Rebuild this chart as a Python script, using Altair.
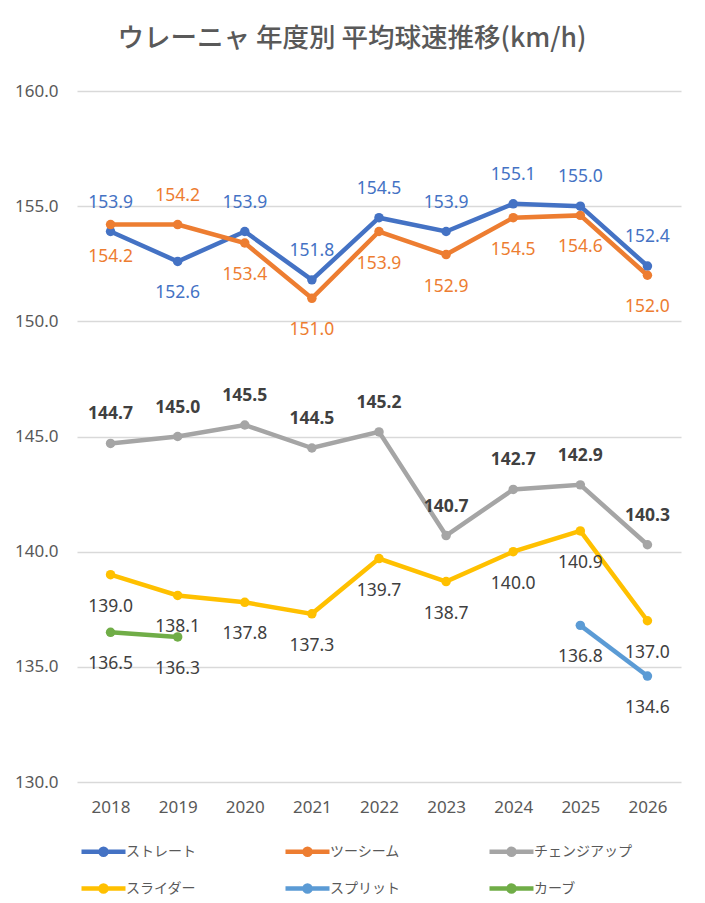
import altair as alt
import pandas as pd

# ---- data ----
years = ["2018", "2019", "2020", "2021", "2022", "2023", "2024", "2025", "2026"]
series_names = ["ストレート", "ツーシーム", "チェンジアップ", "スライダー", "スプリット", "カーブ"]

straight = [153.9, 152.6, 153.9, 151.8, 154.5, 153.9, 155.1, 155.0, 152.4]
twoseam = [154.2, 154.2, 153.4, 151.0, 153.9, 152.9, 154.5, 154.6, 152.0]
changeup = [144.7, 145.0, 145.5, 144.5, 145.2, 140.7, 142.7, 142.9, 140.3]
slider = [139.0, 138.1, 137.8, 137.3, 139.7, 138.7, 140.0, 140.9, 137.0]
split = [None, None, None, None, None, None, None, 136.8, 134.6]
curve = [136.5, 136.3, None, None, None, None, None, None, None]

y_ticks = [130, 135, 140, 145, 150, 155, 160]

# ---- styling ----
series_values = [straight, twoseam, changeup, slider, split, curve]
series_colors = ["#4472C4", "#ED7D31", "#A5A5A5", "#FFC000", "#5B9BD5", "#70AD47"]
label_colors = ["#4472C4", "#ED7D31", "#404040", "#404040", "#404040", "#404040"]
label_pos = [
    ["above", "below", "above", "above", "above", "above", "above", "above", "above"],
    ["below", "above", "below", "below", "below", "below", "below", "below", "below"],
    ["above"] * 9,
    ["below"] * 9,
    ["below"] * 9,
    ["below"] * 9,
]
bold_series = ["チェンジアップ"]

rows = []
for k, (name, vals) in enumerate(zip(series_names, series_values)):
    for i, (yr, v) in enumerate(zip(years, vals)):
        if v is None:
            continue
        rows.append(dict(series=name, year=yr, value=v, pos=label_pos[k][i],
                         lcolor=label_colors[k], label=f"{v:.1f}", sidx=k))
df = pd.DataFrame(rows)

JP = "Noto Sans CJK JP"
NUM = "Noto Sans"

x_enc = alt.X("year:O", sort=years,
              scale=alt.Scale(type="point", padding=0.5),
              axis=alt.Axis(title=None, labelAngle=0, domain=False, ticks=False, grid=False,
                            labelFontSize=17, labelColor="#595959", labelFont=NUM,
                            labelPadding=17))
y_enc = alt.Y("value:Q",
              scale=alt.Scale(domain=[130, 160], nice=False, zero=False),
              axis=alt.Axis(title=None, values=y_ticks, format=".1f", domain=False, ticks=False,
                            gridColor="#D9D9D9", gridWidth=1.3, labelFontSize=17,
                            labelColor="#595959", labelFont=NUM, labelPadding=19))

sym_path = ("M -4.4 0 L 4.4 0 "
            "M -0.6 0 A 0.6 0.6 0 1 1 0.6 0 A 0.6 0.6 0 1 1 -0.6 0 Z")

color_legend = alt.Color("series:N", sort=series_names,
                         scale=alt.Scale(domain=series_names, range=series_colors),
                         legend=alt.Legend(title=None, orient="none", legendX=19, legendY=753,
                                           direction="horizontal", columns=3, gridAlign="all",
                                           symbolType=sym_path, symbolSize=100,
                                           symbolStrokeWidth=4.5, labelOffset=15,
                                           labelFontSize=14, labelFont=JP, labelColor="#595959",
                                           columnPadding=52, rowPadding=12))
color_nolegend = alt.Color("series:N", sort=series_names,
                           scale=alt.Scale(domain=series_names, range=series_colors),
                           legend=None)

base = alt.Chart(df)

lines = base.mark_line(strokeWidth=4.5).encode(
    x=x_enc, y=y_enc, color=color_legend, detail="series:N",
    order=alt.Order("year:O"))

points = base.mark_circle(size=90, opacity=1).encode(
    x=x_enc, y=y_enc, color=color_nolegend)

LBL = 17.5

txt_above = base.transform_filter(
    (alt.datum.pos == "above") & (alt.datum.series != bold_series[0])
).mark_text(dy=-29, baseline="middle", fontSize=LBL, font=NUM).encode(
    x=x_enc, y=y_enc, text="label:N", color=alt.Color("lcolor:N", scale=None))

txt_bold = base.transform_filter(
    (alt.datum.pos == "above") & (alt.datum.series == bold_series[0])
).mark_text(dy=-29, baseline="middle", fontSize=LBL, font=NUM, fontWeight="bold").encode(
    x=x_enc, y=y_enc, text="label:N", color=alt.Color("lcolor:N", scale=None))

txt_below = base.transform_filter(alt.datum.pos == "below").mark_text(
    dy=32, baseline="middle", fontSize=LBL, font=NUM).encode(
    x=x_enc, y=y_enc, text="label:N", color=alt.Color("lcolor:N", scale=None))

chart = alt.layer(lines, points, txt_above, txt_bold, txt_below).properties(
    width=604, height=691,
    background="white",
    autosize=alt.AutoSizeParams(type="none"),
    padding={"left": 69, "top": 83, "right": 16, "bottom": 113},
    title=alt.TitleParams("ウレーニャ 年度別 平均球速推移(km/h)", font=JP, fontSize=26.5,
                          fontWeight=500, color="#595959", anchor="middle", frame="group",
                          dx=-27, offset=30),
).configure_view(stroke=None)

chart.save("out.html", embed_options={"renderer": "svg", "actions": False})
